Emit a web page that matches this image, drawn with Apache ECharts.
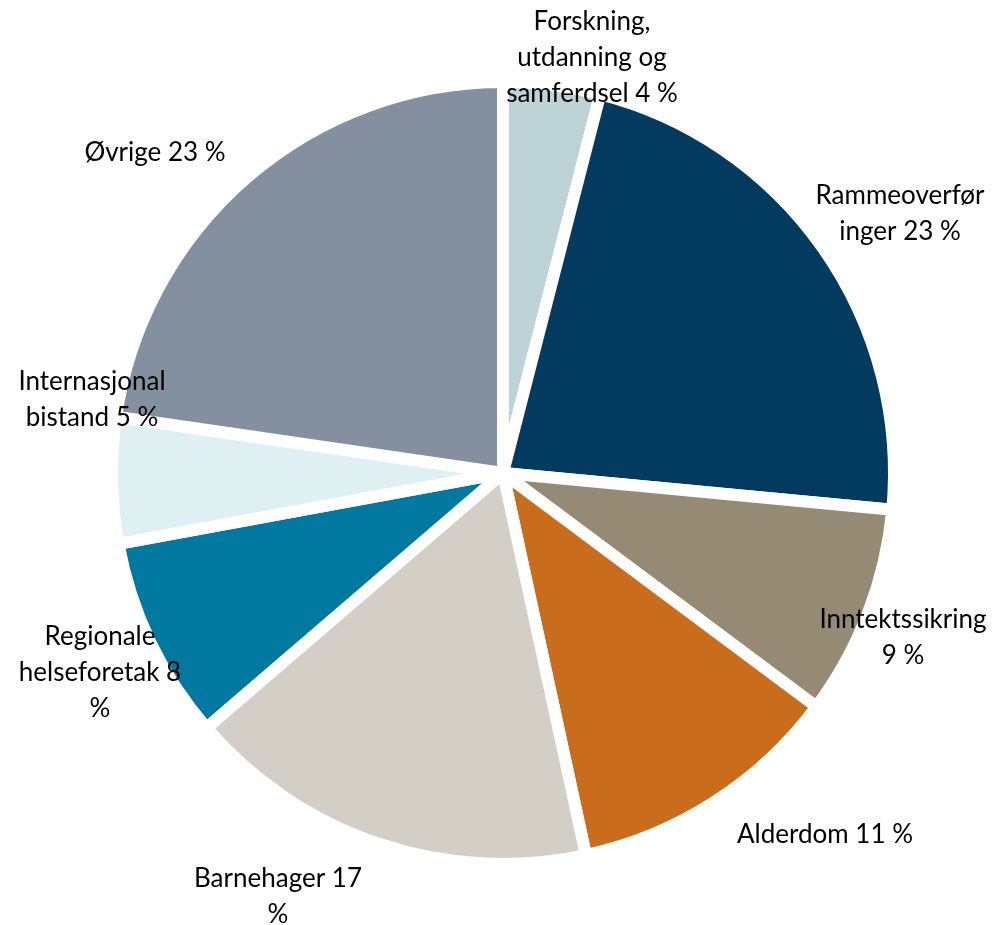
<!DOCTYPE html>
<html>
<head>
<meta charset="utf-8">
<script src="https://cdn.jsdelivr.net/npm/echarts@6/dist/echarts.min.js"></script>
<style>
html,body{margin:0;padding:0;background:#fff;}
#chart{width:997px;height:925px;}
</style>
</head>
<body>
<div id="chart"></div>
<script>
// Data
const categories = ['Forskning, utdanning og samferdsel','Rammeoverføringer','Inntektssikring','Alderdom','Barnehager','Regionale helseforetak','Internasjonal bistand','Øvrige'];
const values = [4.0, 22.5, 8.7, 11.4, 17.1, 8.4, 5.2, 22.7];
const labelTexts = ['Forskning,\nutdanning og\nsamferdsel 4 %','Rammeoverfør\ninger 23 %','Inntektssikring\n9 %','Alderdom 11 %','Barnehager 17\n%','Regionale\nhelseforetak 8\n%','Internasjonal\nbistand 5 %','Øvrige 23 %'];

// Styling
const colors = ['#BDD3D6','#033A5F','#958A73','#C96C1B','#D3CFC7','#00789F','#DFF0F3','#848F9F'];
const labelPos = [[592,58],[900,214],[903,638],[825,835],[278,897],[100,673],[92,400],[155,153]];

const chart = echarts.init(document.getElementById('chart'));
chart.setOption({
  animation:false,
  backgroundColor:'#fff',
  series:[{
    type:'pie',
    center:[503,473],
    radius:391,
    startAngle:90,
    clockwise:true,
    label:{
      show:true,
      position:'inside',
      overflow:'none',
      fontFamily:'Lato, "Open Sans", sans-serif',
      fontSize:26,
      lineHeight:36,
      color:'#000',
      align:'center',
      formatter:function(p){return labelTexts[p.dataIndex];}
    },
    labelLine:{show:false},
    labelLayout:function(p){
      const pos = labelPos[p.dataIndex];
      return {x:pos[0], y:pos[1], align:'center', verticalAlign:'middle', hideOverlap:false};
    },
    itemStyle:{borderColor:'#fff', borderWidth:12, borderJoin:'round'},
    emphasis:{disabled:true},
    data: categories.map((c,i)=>({name:c, value:values[i], itemStyle:{color:colors[i]}}))
  }]
});
</script>
</body>
</html>
